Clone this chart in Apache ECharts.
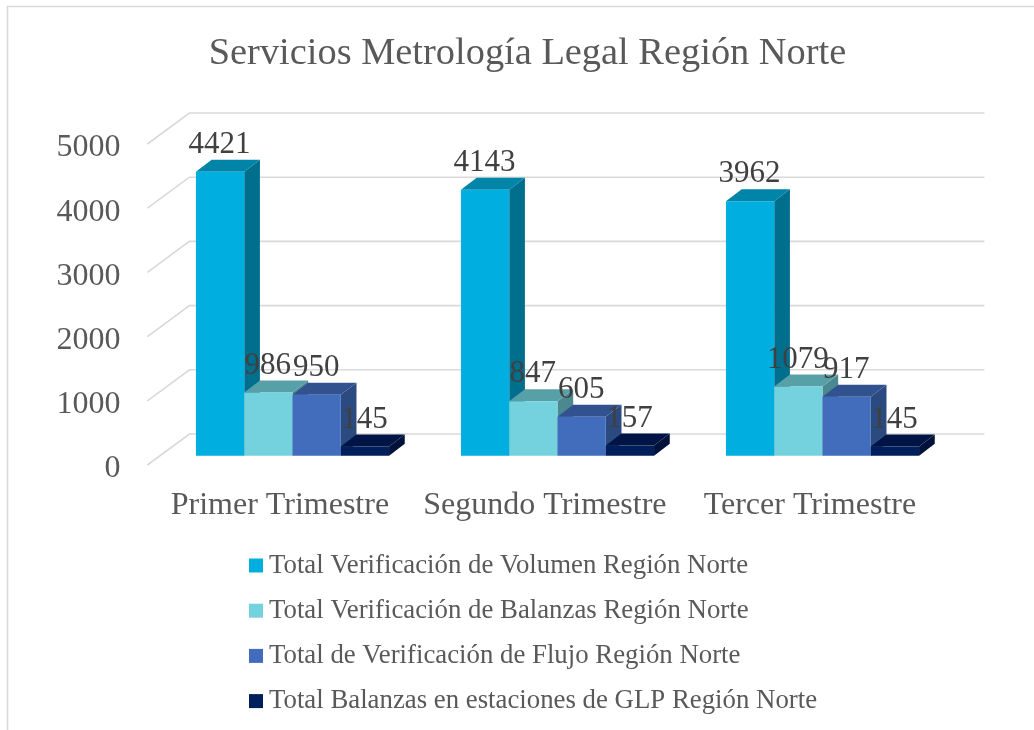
<!DOCTYPE html>
<html>
<head>
<meta charset="utf-8">
<style>
html,body{margin:0;padding:0;background:#fff;}
#c{width:1034px;height:730px;}
</style>
<script src="https://cdn.jsdelivr.net/npm/echarts@6/dist/echarts.min.js"></script>
</head>
<body>
<div id="c"></div>
<script>
var titleText = 'Servicios Metrología Legal Región Norte';
var categories = ['Primer Trimestre', 'Segundo Trimestre', 'Tercer Trimestre'];
var yTicks = [0, 1000, 2000, 3000, 4000, 5000];
var volumen = [4421, 4143, 3962];
var balanzas = [986, 847, 1079];
var flujo = [950, 605, 917];
var glp = [145, 157, 145];
var seriesNames = [
  'Total Verificación de Volumen Región Norte',
  'Total Verificación de Balanzas Región Norte',
  'Total de Verificación de Flujo Región Norte',
  'Total Balanzas en estaciones de GLP Región Norte'
];
var seriesValues = [volumen, balanzas, flujo, glp];
var frontColors = ['#00AEDF', '#73D2DE', '#426DBD', '#001F5B'];
var topColors = ['#0085A9', '#58A0A8', '#31528F', '#001545'];
var sideColors = ['#006F8E', '#4C8890', '#2B4A80', '#00123A'];

var FONT = '"Liberation Serif", "Times New Roman", serif';
var GRID_COLOR = '#D9D9D9';
var WALL_DX = 42, WALL_DY = -31;
var BAR_SHIFT_X = 12.6, BAR_SHIFT_Y = -9.3;
var BAR_DX = 15.7, BAR_DY = -12;
var BAR_SHARE = 0.1822;

function renderWall(params, api) {
  var cs = params.coordSys;
  var p = api.coord([0, api.value(0)]);
  var x0 = cs.x, y0 = p[1];
  return {
    type: 'polyline',
    silent: true,
    shape: { points: [[x0, y0], [x0 + WALL_DX, y0 + WALL_DY], [cs.x + cs.width + WALL_DX, y0 + WALL_DY]] },
    style: { fill: null, stroke: GRID_COLOR, lineWidth: 1.6 }
  };
}

function makeBarRenderer(idx) {
  return function (params, api) {
    var cat = api.value(0), val = api.value(1);
    var band = api.size([1, 0])[0];
    var w = band * BAR_SHARE;
    var c = api.coord([cat, val]);
    var b = api.coord([cat, 0]);
    var x0 = c[0] - 2 * w + idx * w + BAR_SHIFT_X;
    var x1 = x0 + w;
    var yT = c[1] + BAR_SHIFT_Y;
    var yB = b[1] + BAR_SHIFT_Y;
    return {
      type: 'group',
      children: [
        { type: 'polygon', shape: { points: [[x1, yT], [x1 + BAR_DX, yT + BAR_DY], [x1 + BAR_DX, yB + BAR_DY], [x1, yB]] },
          style: { fill: sideColors[idx] } },
        { type: 'polygon', shape: { points: [[x0, yT], [x0 + BAR_DX, yT + BAR_DY], [x1 + BAR_DX, yT + BAR_DY], [x1, yT]] },
          style: { fill: topColors[idx] } },
        { type: 'rect', shape: { x: x0, y: yT, width: w, height: yB - yT },
          style: { fill: frontColors[idx] } },
        { type: 'text', z2: 100, style: {
            x: (x0 + x1) / 2 - 0.5, y: yT + BAR_DY - 15, text: String(val),
            align: 'center', verticalAlign: 'middle',
            font: '31px ' + FONT, fill: '#404040' } }
      ]
    };
  };
}

var series = [{
  type: 'custom',
  name: 'grid',
  silent: true,
  clip: false,
  renderItem: renderWall,
  encode: { y: 0 },
  data: yTicks.map(function (t) { return [t]; }),
  tooltip: { show: false }
}];
seriesNames.forEach(function (name, i) {
  series.push({
    type: 'custom',
    name: name,
    clip: false,
    itemStyle: { color: frontColors[i] },
    renderItem: makeBarRenderer(i),
    encode: { x: 0, y: 1 },
    data: seriesValues[i].map(function (v, k) { return [k, v]; })
  });
});

var chart = echarts.init(document.getElementById('c'), null, { renderer: 'canvas' });
chart.setOption({
  animation: false,
  backgroundColor: '#fff',
  title: {
    text: titleText,
    left: 522.5, top: 30, textAlign: 'center',
    textStyle: { fontFamily: FONT, fontSize: 38.4, fontWeight: 'normal', color: '#595959' }
  },
  legend: {
    orient: 'vertical',
    left: 244, top: 547,
    data: seriesNames,
    icon: 'rect',
    itemWidth: 14, itemHeight: 14, itemGap: 18.2,
    textStyle: { fontFamily: FONT, fontSize: 26.8, color: '#595959', padding: [0, 0, 0, 1] }
  },
  grid: { left: 147.4, width: 795, top: 144, height: 321 },
  xAxis: {
    type: 'category',
    data: categories,
    axisLine: { show: false },
    axisTick: { show: false },
    axisLabel: { fontFamily: FONT, fontSize: 32, color: '#595959', margin: 25, interval: 0 }
  },
  yAxis: {
    type: 'value',
    min: 0, max: 5000, interval: 1000,
    axisLine: { show: false },
    axisTick: { show: false },
    splitLine: { show: false },
    axisLabel: {
      fontFamily: FONT, fontSize: 32, color: '#595959', margin: 27,
      verticalAlign: 'top', lineHeight: 8,
      formatter: function (v) { return String(v); }
    }
  },
  graphic: [
    { type: 'polyline', silent: true, shape: { points: [[7.5, 730], [7.5, 6.5], [1034, 6.5]] }, style: { fill: null, stroke: GRID_COLOR, lineWidth: 1.6 } }
  ],
  series: series
});
</script>
</body>
</html>
